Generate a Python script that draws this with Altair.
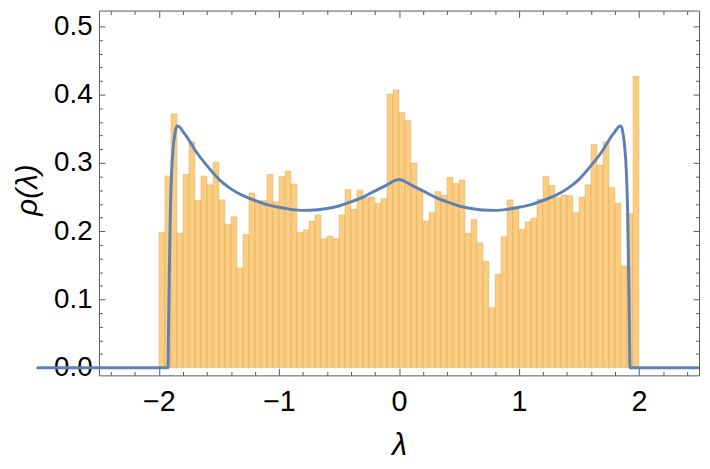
import altair as alt
import pandas as pd

# ---- histogram (80 bins of width 0.05 from -2 to 2) ----
bin_width = 0.05
bar_heights = [
    0.198, 0.281, 0.372, 0.197, 0.283, 0.331, 0.245, 0.281, 0.268, 0.301,
    0.246, 0.210, 0.221, 0.146, 0.195, 0.256, 0.244, 0.245, 0.283, 0.243,
    0.280, 0.288, 0.269, 0.198, 0.202, 0.215, 0.224, 0.189, 0.193, 0.189,
    0.224, 0.261, 0.232, 0.260, 0.249, 0.250, 0.241, 0.248, 0.401, 0.407,
    0.374, 0.362, 0.300, 0.262, 0.215, 0.227, 0.258, 0.253, 0.279, 0.270,
    0.275, 0.197, 0.217, 0.183, 0.156, 0.088, 0.137, 0.192, 0.246, 0.232,
    0.203, 0.214, 0.219, 0.247, 0.280, 0.267, 0.249, 0.253, 0.252, 0.227,
    0.250, 0.268, 0.327, 0.297, 0.331, 0.264, 0.241, 0.149, 0.226, 0.427,
]
bin_lo = [round(-2 + bin_width * i, 2) for i in range(len(bar_heights))]
bin_hi = [round(v + bin_width, 2) for v in bin_lo]

# ---- density curve ----
curve_x = [
    -3.02, -1.925, -1.92, -1.913, -1.905, -1.895, -1.88, -1.865, -1.85, -1.83,
    -1.8, -1.77, -1.7, -1.6, -1.5, -1.4, -1.3, -1.2, -1.1, -1.0,
    -0.9, -0.8, -0.7, -0.6, -0.5, -0.4, -0.3, -0.2, -0.1, 0.0,
    0.1, 0.2, 0.3, 0.4, 0.5, 0.6, 0.7, 0.8, 0.9, 1.0,
    1.1, 1.2, 1.3, 1.4, 1.5, 1.6, 1.7, 1.77, 1.8, 1.83,
    1.85, 1.865, 1.88, 1.895, 1.905, 1.913, 1.92, 1.925, 2.5,
]
curve_y = [
    0.0, 0.0, 0.06, 0.15, 0.23, 0.285, 0.325, 0.345, 0.354, 0.353,
    0.346, 0.339, 0.319, 0.296, 0.276, 0.262, 0.252, 0.245, 0.239, 0.235,
    0.232, 0.2305, 0.231, 0.2333, 0.237, 0.243, 0.250, 0.259, 0.268, 0.2757,
    0.268, 0.259, 0.250, 0.243, 0.237, 0.2333, 0.231, 0.2305, 0.232, 0.235,
    0.239, 0.245, 0.252, 0.262, 0.276, 0.296, 0.319, 0.339, 0.346, 0.353,
    0.354, 0.345, 0.325, 0.285, 0.23, 0.15, 0.06, 0.0, 0.0,
]

# ---- ticks ----
x_major = [-2, -1, 0, 1, 2]
x_minor = [-2.4, -2.2, -1.8, -1.6, -1.4, -1.2, -0.8, -0.6, -0.4, -0.2,
           0.2, 0.4, 0.6, 0.8, 1.2, 1.4, 1.6, 1.8, 2.2, 2.4]
y_major = [0.0, 0.1, 0.2, 0.3, 0.4, 0.5]
y_minor = [0.02, 0.04, 0.06, 0.08, 0.12, 0.14, 0.16, 0.18, 0.22, 0.24, 0.26,
           0.28, 0.32, 0.34, 0.36, 0.38, 0.42, 0.44, 0.46, 0.48]

W, H = 607, 369
FONT = "Liberation Sans"
FRAME = "#5a5a5a"
XMAJ, XMIN = 7, 4
YMAJ, YMIN = 6, 3.5

bars_df = pd.DataFrame({"lo": bin_lo, "hi": bin_hi, "h": bar_heights})
curve_df = pd.DataFrame({"x": curve_x, "y": curve_y})

x_scale = alt.Scale(domain=[-2.5, 2.5], nice=False, zero=False)
y_scale = alt.Scale(domain=[-0.0112, 0.5232], nice=False, zero=False)


def tick_axis(orient, offset, values, size):
    return alt.Axis(orient=orient, offset=offset, values=values, labels=False,
                    domain=False, grid=False, title=None, ticks=True,
                    tickSize=size, tickColor=FRAME, tickWidth=1)


bars = alt.Chart(bars_df).mark_rect(
    fill="#FCCD7E", stroke="#C9A064", strokeWidth=0.6, strokeOpacity=0.6
).encode(
    x=alt.X("lo:Q", scale=x_scale, axis=alt.Axis(
        orient="bottom", offset=-XMAJ, values=x_major, format="d",
        ticks=True, tickSize=XMAJ, tickColor=FRAME, tickWidth=1,
        domain=False, grid=False, labelFont=FONT, labelFontSize=29,
        labelColor="black", labelPadding=13,
        title="λ", titleFont=FONT, titleFontSize=31, titleFontStyle="italic",
        titleFontWeight="normal", titleColor="black", titleY=XMAJ + 80,
        titleBaseline="alphabetic")),
    x2="hi:Q",
    y=alt.Y("h:Q", scale=y_scale, axis=alt.Axis(
        orient="left", offset=-YMAJ, values=y_major, format=".1f",
        ticks=True, tickSize=YMAJ, tickColor=FRAME, tickWidth=1,
        domain=False, grid=False, labelFont=FONT, labelFontSize=28,
        labelColor="black", labelPadding=7,
        title="ρ(λ)", titleFont=FONT, titleFontSize=30, titleFontStyle="italic",
        titleFontWeight="normal", titleColor="black", titleAngle=270,
        titleX=-72 - YMAJ, titleY=181, titleAlign="center",
        titleBaseline="middle")),
    y2=alt.datum(0),
)

curve = alt.Chart(curve_df).mark_line(
    color="#5E81B5", strokeWidth=3, clip=False, interpolate="monotone"
).encode(
    x=alt.X("x:Q", scale=x_scale, axis=tick_axis("bottom", -XMIN, x_minor, XMIN)),
    y=alt.Y("y:Q", scale=y_scale, axis=tick_axis("left", -YMIN, y_minor, YMIN)),
)

top_right_major = alt.Chart(curve_df).mark_line(opacity=0, strokeOpacity=0).encode(
    x=alt.X("x:Q", scale=x_scale, axis=tick_axis("bottom", -H, x_major, XMAJ)),
    y=alt.Y("y:Q", scale=y_scale, axis=tick_axis("left", -W, y_major, YMAJ)),
)

top_right_minor = alt.Chart(curve_df).mark_line(opacity=0, strokeOpacity=0).encode(
    x=alt.X("x:Q", scale=x_scale, axis=tick_axis("bottom", -H, x_minor, XMIN)),
    y=alt.Y("y:Q", scale=y_scale, axis=tick_axis("left", -W, y_minor, YMIN)),
)

chart = alt.layer(bars, curve, top_right_major, top_right_minor).resolve_axis(
    x="independent", y="independent"
).properties(
    width=W, height=H, autosize="none",
    padding={"left": 92, "top": 0, "right": 3, "bottom": 84},
).configure_view(stroke=FRAME, strokeWidth=1)

chart.save("out.html", embed_options={"renderer": "svg", "actions": False})
